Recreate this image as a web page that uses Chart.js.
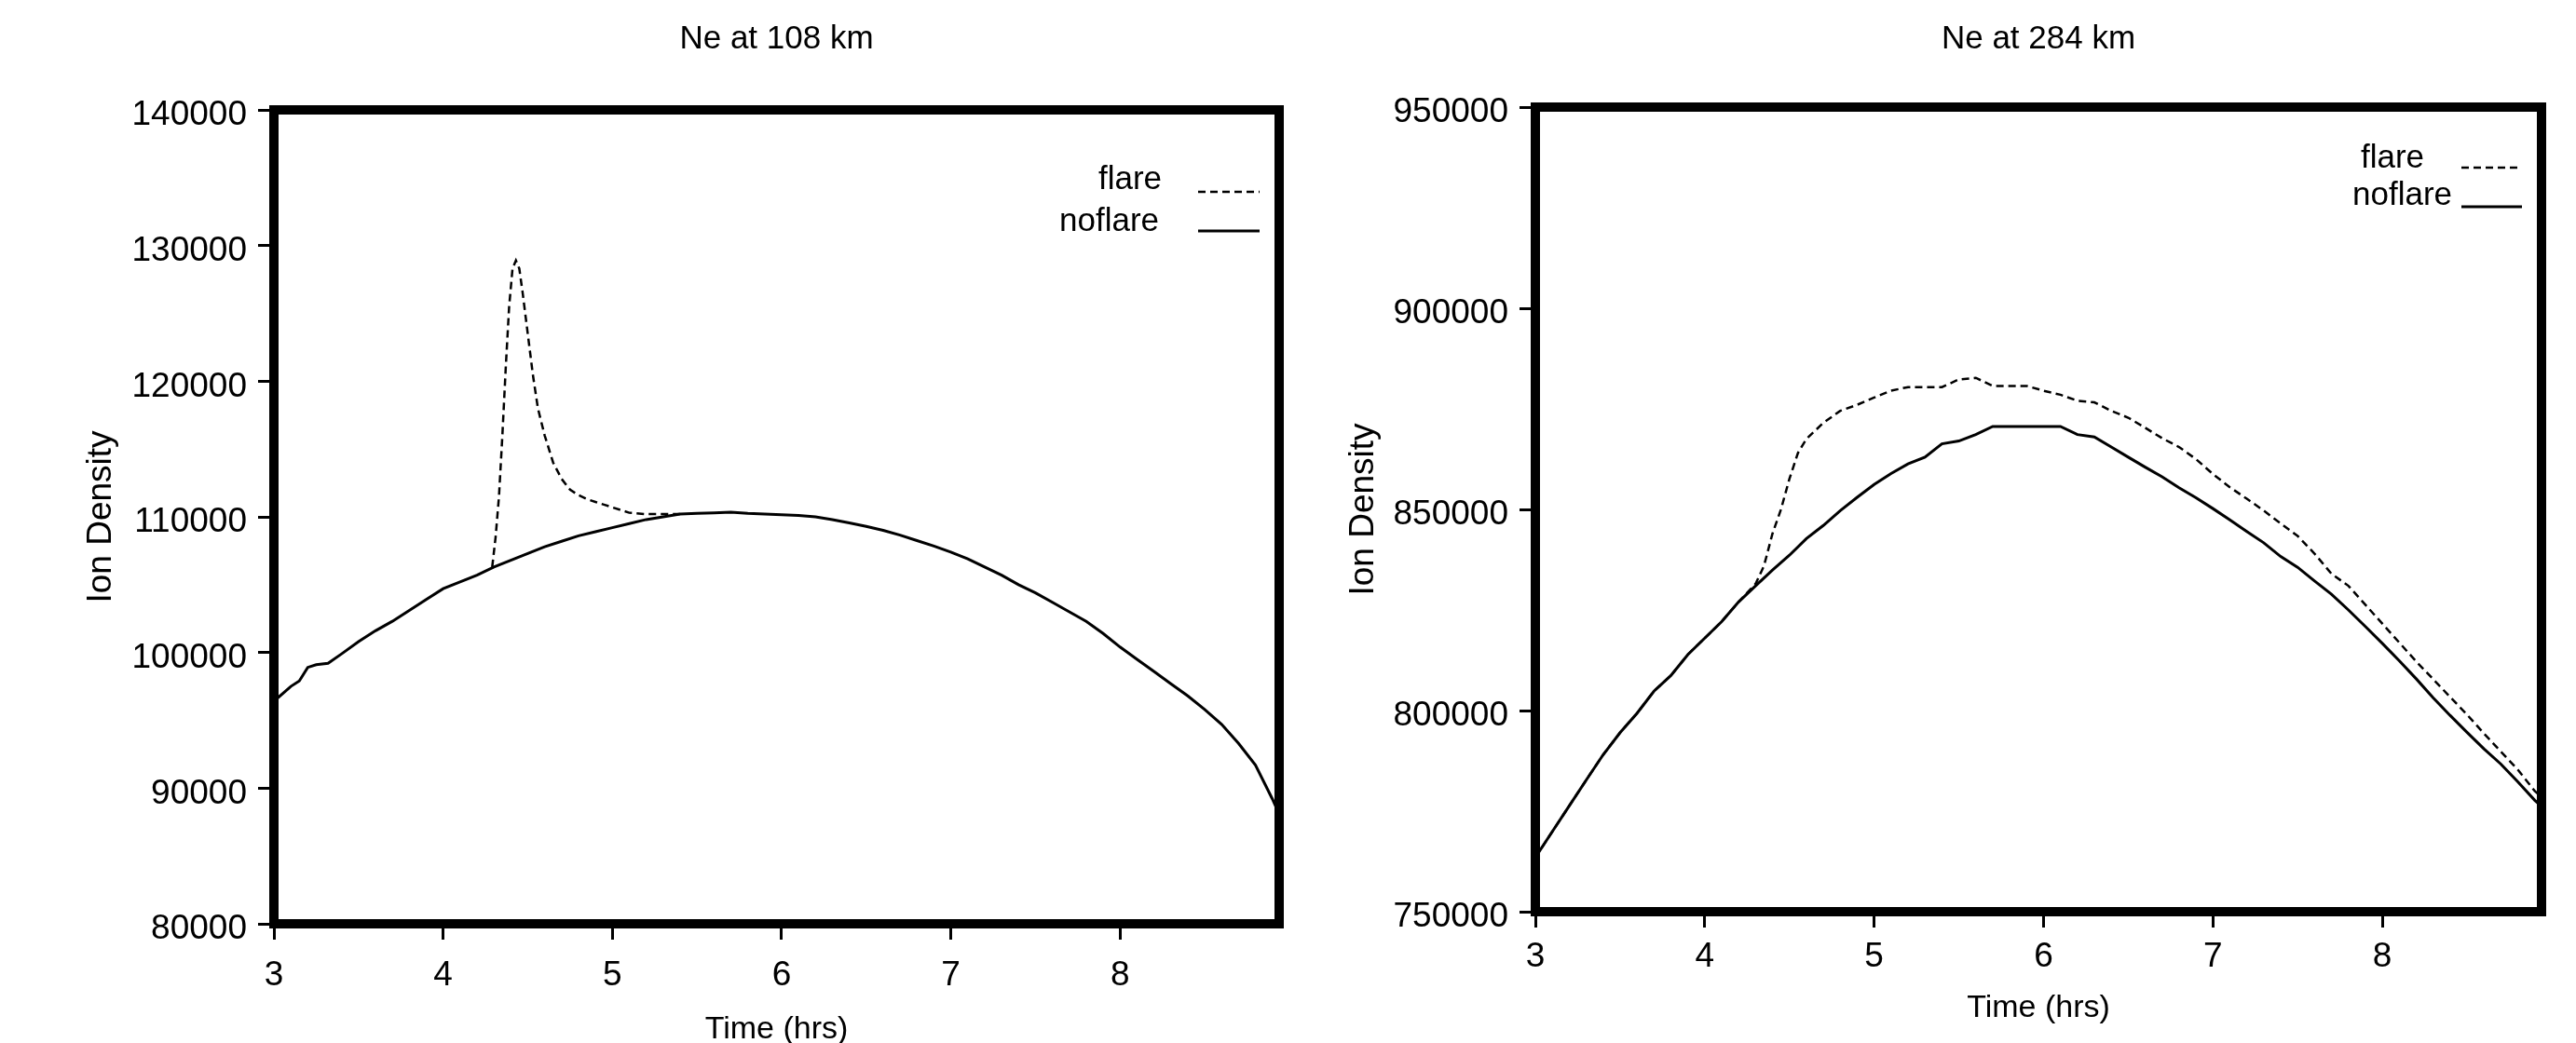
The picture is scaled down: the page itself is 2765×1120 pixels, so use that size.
<!DOCTYPE html>
<html>
<head>
<meta charset="utf-8">
<script src="https://cdn.jsdelivr.net/npm/chart.js@4.4.1/dist/chart.umd.min.js"></script>
<style>
html,body{margin:0;padding:0;background:#fff;overflow:hidden;width:2765px;height:1120px;}
canvas{position:absolute;top:0;}
</style>
</head>
<body>
<canvas id="c108" width="1400" height="1150" style="left:0"></canvas>
<canvas id="c284" width="1365" height="1150" style="left:1400px"></canvas>
<script>
// ---------- DATA ----------
const xTicks = [3, 4, 5, 6, 7, 8];
const yTicks108 = [80000, 90000, 100000, 110000, 120000, 130000, 140000];
const yTicks284 = [750000, 800000, 850000, 900000, 950000];

const hoursNoflare108 = [3.0,3.1,3.15,3.2,3.25,3.32,3.4,3.5,3.6,3.7,3.8,3.9,4.0,4.1,4.2,4.3,4.4,4.5,4.6,4.7,4.8,4.9,5.0,5.1,5.2,5.3,5.4,5.5,5.6,5.7,5.8,5.9,6.0,6.1,6.2,6.3,6.4,6.5,6.6,6.7,6.8,6.9,7.0,7.1,7.2,7.3,7.4,7.5,7.6,7.7,7.8,7.9,8.0,8.1,8.2,8.3,8.4,8.5,8.6,8.7,8.8,8.9,8.94];
const noflare108 = [96400,97500,97900,98900,99100,99200,99900,100800,101600,102300,103100,103900,104700,105200,105700,106300,106800,107300,107800,108200,108600,108900,109200,109500,109800,110000,110200,110250,110300,110350,110250,110200,110150,110100,110000,109800,109550,109300,109000,108650,108250,107850,107400,106900,106300,105700,105000,104400,103700,103000,102300,101400,100400,99500,98600,97700,96800,95800,94700,93300,91700,89200,88100];

const hoursFlare108 = [4.29,4.31,4.33,4.35,4.37,4.39,4.41,4.43,4.45,4.47,4.5,4.53,4.56,4.6,4.65,4.7,4.75,4.8,4.85,4.9,4.95,5.0,5.05,5.1,5.2,5.3,5.4];
const flare108 = [106300,108500,111500,116000,121000,125500,128300,128900,128300,126500,123500,120500,118000,116000,114000,112800,112000,111600,111300,111100,110900,110700,110500,110300,110200,110200,110200];

const hoursNoflare284 = [3.0,3.1,3.2,3.3,3.4,3.5,3.6,3.7,3.8,3.9,4.0,4.1,4.2,4.3,4.4,4.5,4.6,4.7,4.8,4.9,5.0,5.1,5.2,5.3,5.4,5.5,5.6,5.7,5.8,5.9,6.0,6.1,6.2,6.3,6.4,6.5,6.6,6.7,6.8,6.9,7.0,7.1,7.2,7.3,7.4,7.5,7.6,7.7,7.8,7.9,8.0,8.1,8.2,8.3,8.4,8.5,8.6,8.7,8.8,8.9,8.94];
const noflare284 = [763500,769900,776300,782700,789000,794500,799300,804800,808700,813900,818000,822100,827000,831000,834900,838600,842750,846000,849700,853000,856200,858900,861300,863000,866300,867000,868600,870600,870600,870600,870600,870600,868600,868000,865500,863000,860500,858100,855400,852900,850200,847400,844500,841700,838300,835600,832200,828900,825000,820900,816700,812400,807900,803200,798800,794600,790500,786700,782300,777700,776200];

const hoursFlare284 = [3.0,3.1,3.2,3.3,3.4,3.5,3.6,3.7,3.8,3.9,4.0,4.1,4.2,4.3,4.35,4.4,4.45,4.5,4.55,4.6,4.7,4.8,4.9,5.0,5.1,5.2,5.3,5.4,5.5,5.6,5.7,5.8,5.9,6.0,6.1,6.2,6.3,6.4,6.5,6.6,6.7,6.8,6.9,7.0,7.1,7.2,7.3,7.4,7.5,7.6,7.7,7.8,7.9,8.0,8.1,8.2,8.3,8.4,8.5,8.6,8.7,8.8,8.9,8.94];
const flare284 = [763500,769900,776300,782700,789000,794500,799300,804800,808700,813900,818000,822100,827000,831500,836000,844000,850000,857600,864000,867500,871500,874500,876000,877800,879500,880400,880400,880400,882300,882700,880700,880700,880700,879500,878500,877000,876600,874500,872800,870300,867700,865500,862500,858800,855500,852650,849700,846500,843400,839000,834000,831000,826300,821600,816900,812200,807800,803400,799000,794300,789800,785300,780000,778500];

// ---------- STYLE / PLUGINS ----------
const FONT = '"Liberation Sans", Arial, Helvetica, sans-serif';
Chart.defaults.font.family = FONT;
Chart.defaults.font.size = 37;
Chart.defaults.color = '#000';

const framePlugin = {
  id: 'frame',
  afterDatasetsDraw(chart) {
    const {ctx, chartArea: a} = chart;
    ctx.save();
    ctx.lineWidth = 10;
    ctx.strokeStyle = '#000';
    ctx.lineJoin = 'miter';
    ctx.strokeRect(a.left, a.top, a.right - a.left, a.bottom - a.top);
    ctx.restore();
  }
};

const sideLegendPlugin = {
  id: 'sideLegend',
  afterDraw(chart, args, opts) {
    const ctx = chart.ctx;
    ctx.save();
    ctx.font = '35px ' + FONT;
    ctx.fillStyle = '#000';
    ctx.textAlign = 'right';
    ctx.textBaseline = 'middle';
    (opts.items || []).forEach(it => {
      const ds = chart.data.datasets[it.ds];
      ctx.fillText(ds.label, it.tx, it.ty);
      ctx.beginPath();
      ctx.lineWidth = ds.borderWidth;
      ctx.strokeStyle = ds.borderColor;
      ctx.setLineDash(ds.borderDash || []);
      ctx.moveTo(it.x1, it.ly);
      ctx.lineTo(it.x2, it.ly);
      ctx.stroke();
      ctx.setLineDash([]);
    });
    ctx.restore();
  }
};

function pts(xs, ys) { return xs.map((x, i) => ({x: x, y: ys[i]})); }

function makeChart(id, cfg) {
  return new Chart(document.getElementById(id), {
    type: 'line',
    data: {
      datasets: [
        {label: 'noflare', data: pts(cfg.hn, cfg.vn), borderColor: '#000', borderWidth: 3, pointRadius: 0, tension: 0, fill: false, order: 1},
        {label: 'flare', data: pts(cfg.hf, cfg.vf), borderColor: '#000', borderWidth: 2.5, borderDash: [8, 5], pointRadius: 0, tension: 0, fill: false, order: 2}
      ]
    },
    options: {
      responsive: false,
      animation: false,
      devicePixelRatio: 1,
      layout: {padding: {left: 0, right: cfg.padRight, top: 0, bottom: 0}},
      plugins: {
        legend: {display: false},
        tooltip: {enabled: false},
        title: {display: true, text: cfg.title, fullSize: false, color: '#000',
                font: {size: 35, weight: 'normal', lineHeight: 1},
                padding: {top: cfg.titleTop, bottom: cfg.titleBottom}},
        sideLegend: {items: cfg.legend}
      },
      scales: {
        x: {
          type: 'linear', min: 3, max: 8.94,
          afterBuildTicks: s => { s.ticks = xTicks.map(v => ({value: v})); },
          afterFit: s => { s.height = cfg.xHeight; },
          ticks: {padding: cfg.xTickPad, callback: v => String(v), font: {size: 37}},
          grid: {display: true, drawOnChartArea: false, drawTicks: true, tickLength: 17, tickWidth: 3, tickColor: '#000'},
          border: {display: false},
          title: {display: true, text: 'Time (hrs)', font: {size: 34, lineHeight: 1}, padding: {top: 0, bottom: cfg.xTitlePad}}
        },
        y: {
          type: 'linear', min: cfg.ymin, max: cfg.ymax,
          afterBuildTicks: s => { s.ticks = cfg.yTicks.map(v => ({value: v})); },
          afterFit: s => { s.width = cfg.yWidth; },
          ticks: {padding: 12, labelOffset: 6, callback: v => String(v), font: {size: 37}},
          grid: {display: true, drawOnChartArea: false, drawTicks: true, tickLength: 17, tickWidth: 3, tickColor: '#000'},
          border: {display: false},
          title: {display: true, text: 'Ion Density', font: {size: 37, lineHeight: 1}, padding: {top: cfg.yTitlePad, bottom: 0}}
        }
      }
    },
    plugins: [framePlugin, sideLegendPlugin]
  });
}

makeChart('c108', {
  title: 'Ne at 108 km', hn: hoursNoflare108, vn: noflare108, hf: hoursFlare108, vf: flare108,
  ymin: 80000, ymax: 140000, yTicks: yTicks108,
  padRight: 27, yWidth: 294, xHeight: 158, titleTop: 25, titleBottom: 58,
  xTickPad: 17, xTitlePad: 27, yTitlePad: 90,
  legend: [
    {ds: 1, tx: 1247, ty: 193, x1: 1286, x2: 1352, ly: 206},
    {ds: 0, tx: 1244, ty: 238, x1: 1286, x2: 1352, ly: 248}
  ]
});

makeChart('c284', {
  title: 'Ne at 284 km', hn: hoursNoflare284, vn: noflare284, hf: hoursFlare284, vf: flare284,
  ymin: 750000, ymax: 950000, yTicks: yTicks284,
  padRight: 37, yWidth: 248, xHeight: 171, titleTop: 25, titleBottom: 55,
  xTickPad: 10, xTitlePad: 50, yTitlePad: 45,
  legend: [
    {ds: 1, tx: 1202, ty: 170, x1: 1242, x2: 1307, ly: 180},
    {ds: 0, tx: 1232, ty: 210, x1: 1242, x2: 1307, ly: 222}
  ]
});
</script>
</body>
</html>
